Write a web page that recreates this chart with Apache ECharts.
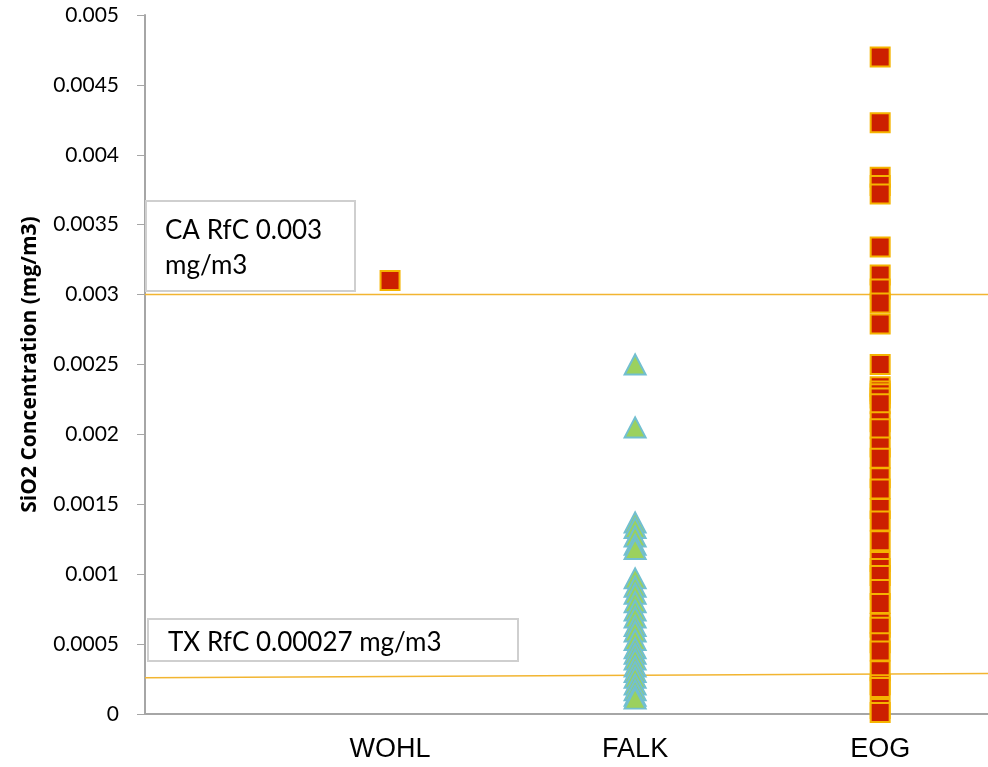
<!DOCTYPE html>
<html>
<head>
<meta charset="utf-8">
<script src="https://cdn.jsdelivr.net/npm/echarts@6/dist/echarts.min.js"></script>
<style>
  html, body { margin: 0; padding: 0; background: #fff; }
  #main { width: 988px; height: 767px; }
</style>
</head>
<body>
<div id="main"></div>
<script>
// site names on the x axis (x = 1, 2, 3)
const sites = ['WOHL', 'FALK', 'EOG'];

// SiO2 concentration readings, mg/m3
const wohlValues = [0.0031];
const falkValues = [
  0.0025, 0.00205,
  0.00137, 0.00133, 0.00127, 0.00121, 0.00118,
  0.00097, 0.00091, 0.00086, 0.0008, 0.00074, 0.00069, 0.00063, 0.00059,
  0.00053, 0.00047, 0.00043, 0.00039, 0.00034, 0.0003, 0.00026, 0.00021,
  0.00017, 0.00013, 0.00011
];
const eogValues = [
  0.0047, 0.00423, 0.00384, 0.00378, 0.00372, 0.00334,
  0.00314, 0.00304, 0.00294, 0.00279, 0.0025,
  0.00234, 0.00231, 0.00229, 0.00226, 0.00222, 0.00209, 0.00204,
  0.00191, 0.00183, 0.00169, 0.00161, 0.00147, 0.00138, 0.00124,
  0.00109, 0.00104, 0.00099, 0.00089, 0.00079, 0.00065, 0.00062,
  0.00051, 0.00045, 0.00031, 0.00021, 0.00019, 0.00004, 0.00001
];

// reference limits
const caRfc = [0.003, 0.003];
const txRfc = [0.00026, 0.00029];

const xMax = 3.44;

function toPoints(x, arr) {
  return arr.map(v => [x, v]);
}

const chart = echarts.init(document.getElementById('main'));

const option = {
  backgroundColor: '#fff',
  animation: false,
  grid: { left: 145, right: 0, top: 15, bottom: 53 },
  xAxis: {
    type: 'value',
    min: 0,
    max: xMax,
    interval: 1,
    splitLine: { show: false },
    axisTick: { show: false },
    axisLine: { lineStyle: { color: '#a6a6a6', width: 2 } },
    axisLabel: {
      margin: 22,
      color: '#000',
      fontFamily: 'Liberation Sans',
      fontSize: 27,
      showMaxLabel: false,
      formatter: v => sites[v - 1] || ''
    }
  },
  yAxis: {
    type: 'value',
    min: 0,
    max: 0.005,
    interval: 0.0005,
    name: 'SiO2 Concentration (mg/m3)',
    nameLocation: 'middle',
    nameGap: 104,
    nameTextStyle: { color: '#000', fontSize: 21, fontWeight: 'bold', fontFamily: 'Open Sans' },
    splitLine: { show: false },
    axisLine: { show: true, lineStyle: { color: '#a6a6a6', width: 2 } },
    axisTick: { show: true, length: 8, lineStyle: { color: '#a6a6a6', width: 1 } },
    axisLabel: {
      margin: 26,
      color: '#000',
      fontFamily: 'Lato',
      fontSize: 21,
      formatter: v => v === 0 ? '0' : String(+v.toFixed(5))
    }
  },
  graphic: [
    {
      type: 'rect', z: 1,
      shape: { x: 146, y: 201, width: 209, height: 90 },
      style: { fill: '#fff', stroke: '#cfcfcf', lineWidth: 2 }
    },
    {
      type: 'text', z: 2, left: 165, top: 213,
      style: { text: 'CA RfC 0.003\nmg/m3', fill: '#000', font: '26px Lato', lineHeight: 35 }
    },
    {
      type: 'rect', z: 1,
      shape: { x: 148, y: 619, width: 370, height: 42 },
      style: { fill: '#fff', stroke: '#cfcfcf', lineWidth: 2 }
    },
    {
      type: 'text', z: 2, left: 168, top: 630,
      style: { text: 'TX RfC 0.00027 mg/m3', fill: '#000', font: '26px Lato' }
    }
  ],
  series: [
    {
      name: 'CA RfC',
      type: 'line',
      silent: true,
      symbol: 'none',
      z: 3,
      lineStyle: { color: '#f2b531', width: 1.5 },
      data: [[0, caRfc[0]], [xMax, caRfc[1]]]
    },
    {
      name: 'TX RfC',
      type: 'line',
      silent: true,
      symbol: 'none',
      z: 3,
      lineStyle: { color: '#f2b531', width: 1.5 },
      data: [[0, txRfc[0]], [xMax, txRfc[1]]]
    },
    {
      name: 'WOHL',
      type: 'scatter',
      z: 4,
      symbol: 'rect',
      symbolSize: 19,
      itemStyle: { color: '#cc1f00', borderColor: '#f5b400', borderWidth: 2, opacity: 1 },
      data: toPoints(1, wohlValues)
    },
    {
      name: 'FALK',
      type: 'scatter',
      z: 4,
      symbol: 'triangle',
      symbolSize: [21, 20],
      itemStyle: { color: '#9bd15e', borderColor: '#72bfd0', borderWidth: 2, opacity: 1 },
      data: toPoints(2, falkValues)
    },
    {
      name: 'EOG',
      type: 'scatter',
      z: 4,
      symbol: 'rect',
      symbolSize: 19,
      itemStyle: { color: '#cc1f00', borderColor: '#f5b400', borderWidth: 2, opacity: 1 },
      data: toPoints(3, eogValues)
    }
  ]
};

chart.setOption(option);
</script>
</body>
</html>
